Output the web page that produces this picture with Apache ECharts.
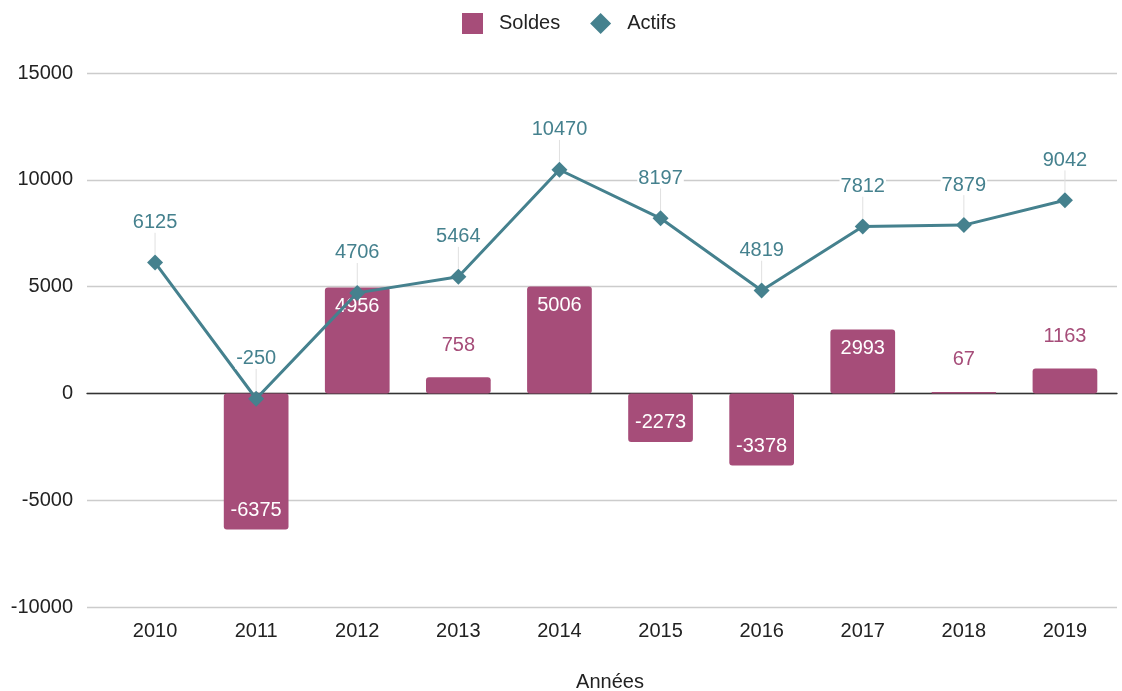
<!DOCTYPE html>
<html>
<head>
<meta charset="UTF-8">
<title>Soldes et Actifs</title>
<script src="https://cdn.jsdelivr.net/npm/echarts@6/dist/echarts.min.js"></script>
<style>
	html, body { margin: 0; padding: 0; background: #fff; }
	#main { width: 1122px; height: 691px; }
</style>
</head>
<body>
	<div id="main"></div>
	<script>
		// donnees
		var annees = ['2010', '2011', '2012', '2013', '2014', '2015', '2016', '2017', '2018', '2019'];
		var soldes = [null, -6375, 4956, 758, 5006, -2273, -3378, 2993, 67, 1163];
		var actifs = [6125, -250, 4706, 5464, 10470, 8197, 4819, 7812, 7879, 9042];

		var couleurSoldes = '#a64d79';
		var couleurActifs = '#45818e';
		var police = '"Liberation Sans", Arial, sans-serif';

		// les petites barres ont leur etiquette au dessus, les grandes a l'interieur
		var soldesData = soldes.map(function (v) {
			if (v === null) return null;
			var grand = Math.abs(v) >= 2000;
			return {
				value: v,
				label: grand ? {
					position: v > 0 ? 'insideTop' : 'insideBottom',
					color: '#fff',
					distance: 9
				} : {
					position: 'top',
					color: couleurSoldes,
					distance: 22
				}
			};
		});

		var myChart = echarts.init(document.getElementById('main'));
		var option = {
			textStyle: { fontFamily: police },
			legend: {
				top: 8,
				left: 457,
				itemWidth: 21,
				itemHeight: 21,
				itemGap: 30,
				textStyle: { fontSize: 20, color: '#222', fontFamily: police, padding: [0, 0, 0, 11] },
				data: [
					{ name: 'Soldes', icon: 'rect' },
					{ name: 'Actifs', icon: 'diamond' }
				]
			},
			// grille 0 : lignes de fond et axe zero sur toute la largeur
			// grille 1 : les series, decalee comme dans l'original
			grid: [
				{ left: 87, right: 5, top: 73, bottom: 84, containLabel: false, outerBoundsMode: 'none' },
				{ left: 104.5, right: 6.5, top: 73, bottom: 84, containLabel: false, outerBoundsMode: 'none' }
			],
			xAxis: [
				{
					type: 'category',
					gridIndex: 0,
					data: annees,
					axisTick: { show: false },
					axisLabel: { show: false },
					axisLine: { onZero: true, lineStyle: { color: '#333', width: 1.3 } }
				},
				{
					type: 'category',
					gridIndex: 1,
					data: annees,
					position: 'bottom',
					name: 'Années',
					nameLocation: 'middle',
					nameGap: 65,
					nameTextStyle: { fontSize: 20, color: '#222', fontFamily: police },
					axisTick: { show: false },
					axisLine: { show: false, onZero: false },
					axisLabel: { fontSize: 20, color: '#222', margin: 14, fontFamily: police }
				}
			],
			yAxis: [
				{
					type: 'value',
					gridIndex: 0,
					min: -10000,
					max: 15000,
					interval: 5000,
					axisLine: { show: false },
					axisTick: { show: false },
					axisLabel: {
						fontSize: 20, color: '#222', margin: 14, fontFamily: police,
						formatter: function (v) { return String(v); }
					},
					splitLine: { lineStyle: { color: '#cccccc', width: 1.3 } }
				},
				{
					type: 'value',
					gridIndex: 1,
					min: -10000,
					max: 15000,
					interval: 5000,
					axisLine: { show: false },
					axisTick: { show: false },
					axisLabel: { show: false },
					splitLine: { show: false }
				}
			],
			series: [
				{
					name: 'Soldes',
					type: 'bar',
					xAxisIndex: 1,
					yAxisIndex: 1,
					data: soldesData,
					barWidth: '64%',
					itemStyle: { color: couleurSoldes, borderRadius: 3 },
					label: {
						show: true,
						fontSize: 20,
						fontFamily: police
					}
				},
				{
					name: 'Actifs',
					type: 'line',
					xAxisIndex: 1,
					yAxisIndex: 1,
					data: actifs,
					symbol: 'diamond',
					symbolSize: 16,
					z: 3,
					lineStyle: { color: couleurActifs, width: 3 },
					itemStyle: { color: couleurActifs },
					label: {
						show: true,
						position: 'top',
						distance: 5,
						fontSize: 20,
						color: couleurActifs,
						fontFamily: police,
						backgroundColor: '#fff',
						padding: [0, 1]
					},
					labelLayout: { dy: -17 },
					labelLine: {
						show: true,
						lineStyle: { color: '#e0e0e0', width: 1 }
					}
				}
			]
		};
		myChart.setOption(option);
	</script>
</body>
</html>
